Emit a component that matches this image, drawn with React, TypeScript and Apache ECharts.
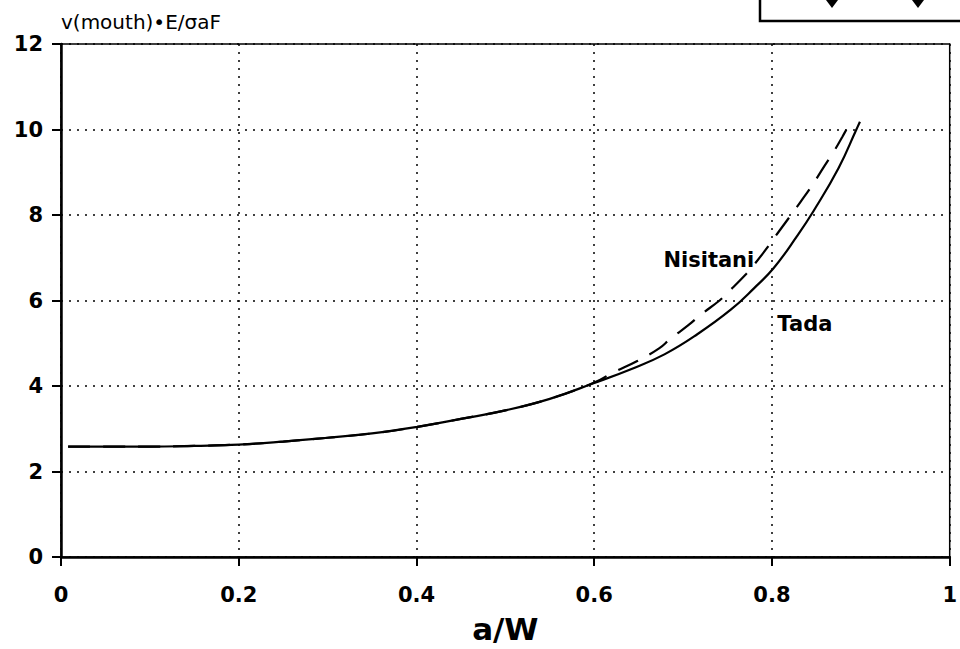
import React, { useEffect, useRef } from "react";
import * as echarts from "echarts";

const tadaA = [0.008, 0.05, 0.1, 0.15, 0.2, 0.25, 0.3, 0.35, 0.4, 0.45, 0.5, 0.55, 0.6, 0.642, 0.679, 0.716, 0.754, 0.78, 0.802, 0.828, 0.847, 0.875, 0.895, 0.899];
const tadaV = [2.58, 2.58, 2.58, 2.6, 2.63, 2.7, 2.79, 2.89, 3.04, 3.23, 3.43, 3.7, 4.07, 4.4, 4.74, 5.21, 5.79, 6.29, 6.76, 7.5, 8.1, 9.1, 10.0, 10.18];

const nisA = [0.008, 0.05, 0.1, 0.15, 0.2, 0.25, 0.3, 0.35, 0.4, 0.45, 0.5, 0.55, 0.6, 0.62, 0.649, 0.673, 0.685, 0.707, 0.72, 0.741, 0.75, 0.771, 0.78, 0.797, 0.808, 0.825, 0.832, 0.847, 0.857, 0.87, 0.879, 0.89];
const nisV = [2.58, 2.58, 2.58, 2.6, 2.63, 2.7, 2.79, 2.89, 3.04, 3.23, 3.43, 3.7, 4.08, 4.3, 4.59, 4.88, 5.09, 5.44, 5.67, 6.0, 6.18, 6.62, 6.84, 7.3, 7.62, 8.1, 8.3, 8.75, 9.08, 9.5, 9.82, 10.24];

const curveLabels = ["Nisitani", "Tada"];
const labelA = [0.729, 0.837];
const labelV = [6.95, 5.45];

const xTicks = [0, 0.2, 0.4, 0.6, 0.8, 1];
const yTicks = [0, 2, 4, 6, 8, 10, 12];

const FONT = "DejaVu Sans";

export default function App() {
  const ref = useRef<HTMLDivElement>(null);
  useEffect(() => {
    if (!ref.current) return;
    const chart = echarts.init(ref.current, null, { renderer: "svg" });
    const dotted = { color: "#000", width: 1.5, type: [2, 6] as any };
    chart.setOption({
      animation: false,
      backgroundColor: "#fff",
      grid: {
        left: 61,
        right: 7,
        top: 44,
        bottom: 88,
        show: true,
        borderColor: "#000",
        borderWidth: 1.5,
        backgroundColor: "transparent",
      },
      xAxis: {
        type: "value",
        min: xTicks[0],
        max: xTicks[xTicks.length - 1],
        interval: 0.2,
        name: "a/W",
        nameLocation: "middle",
        nameGap: 56,
        nameTextStyle: { fontFamily: FONT, fontWeight: "bold", fontSize: 31, color: "#000" },
        axisLine: { show: true, lineStyle: { color: "#000", width: 2.5 } },
        axisTick: { show: true, length: 9, lineStyle: { color: "#000", width: 2 } },
        axisLabel: {
          margin: 27,
          fontFamily: FONT,
          fontWeight: "bold",
          fontSize: 21,
          color: "#000",
          formatter: (v: number) => (v === 0 ? "0" : v === 1 ? "1" : v.toFixed(1)),
        },
        splitLine: { show: true, lineStyle: dotted },
      },
      yAxis: {
        type: "value",
        min: yTicks[0],
        max: yTicks[yTicks.length - 1],
        interval: 2,
        name: "v(mouth)•E/σaF",
        nameLocation: "end",
        nameGap: 12,
        nameTextStyle: {
          fontFamily: FONT,
          fontSize: 20,
          color: "#000",
          align: "left",
          verticalAlign: "bottom",
        },
        axisLine: { show: true, lineStyle: { color: "#000", width: 2.5 } },
        axisTick: { show: true, length: 9, lineStyle: { color: "#000", width: 2 } },
        axisLabel: {
          margin: 18,
          fontFamily: FONT,
          fontWeight: "bold",
          fontSize: 21,
          color: "#000",
        },
        splitLine: { show: true, lineStyle: dotted },
      },
      series: [
        {
          name: "Tada",
          type: "line",
          data: tadaA.map((a, i) => [a, tadaV[i]]),
          showSymbol: false,
          smooth: 0.45,
          lineStyle: { color: "#000", width: 2.2, type: "solid" },
          z: 3,
        },
        {
          name: "Nisitani",
          type: "line",
          data: nisA.map((a, i) => [a, nisV[i]]),
          showSymbol: false,
          smooth: 0.45,
          lineStyle: { color: "#000", width: 2.2, type: [22, 13] },
          z: 3,
        },
        {
          name: "labels",
          type: "scatter",
          data: curveLabels.map((t, i) => [labelA[i], labelV[i], t]),
          symbolSize: 1,
          itemStyle: { color: "rgba(0,0,0,0)", opacity: 1 },
          label: {
            show: true,
            position: "inside",
            formatter: (p: any) => p.data[2],
            fontFamily: FONT,
            fontWeight: "bold",
            fontSize: 21,
            color: "#000",
            opacity: 1,
          },
          z: 4,
        },
      ],
      graphic: [
        {
          type: "polyline",
          shape: { points: [[760, 0], [760, 21], [960, 21]] },
          style: { stroke: "#000", lineWidth: 2.5, fill: "none" },
        },
        {
          type: "polygon",
          shape: { points: [[826, 0], [838, 0], [832, 8]] },
          style: { fill: "#000" },
        },
        {
          type: "polygon",
          shape: { points: [[912, 0], [924, 0], [918, 8]] },
          style: { fill: "#000" },
        },
      ],
    });
    return () => chart.dispose();
  }, []);
  return <div ref={ref} style={{ width: 960, height: 649, position: "absolute", left: 0, top: 0 }} />;
}
